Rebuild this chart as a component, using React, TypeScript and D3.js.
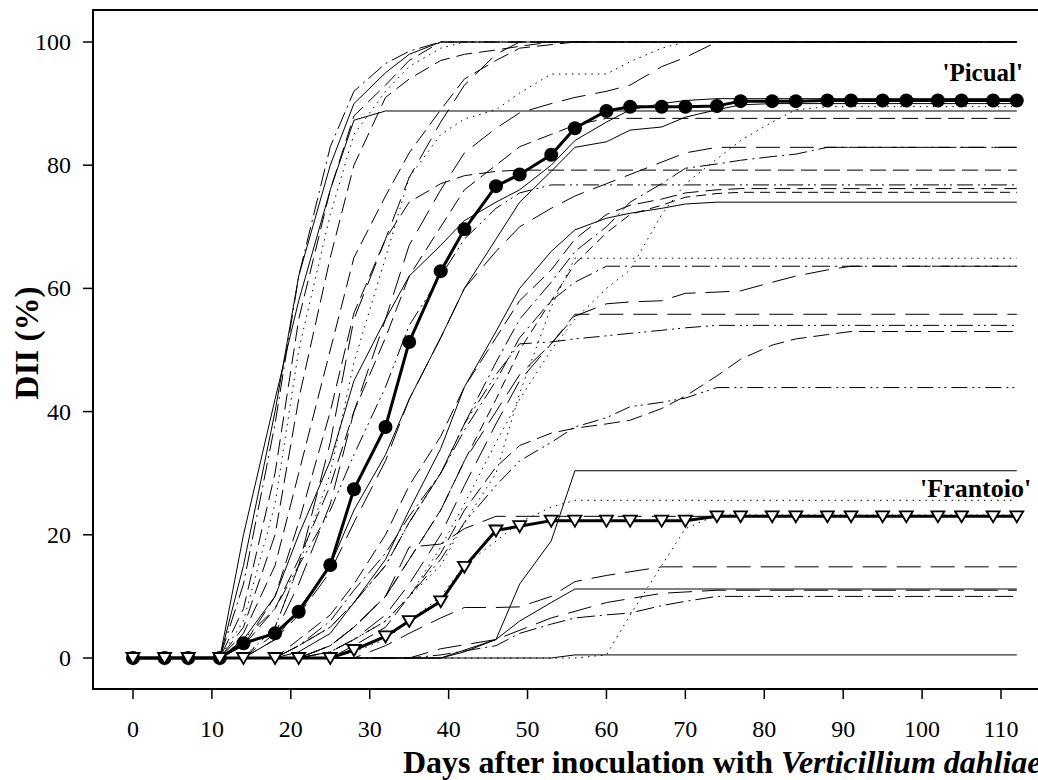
import React from 'react'
import * as d3 from 'd3'

type Pt = [number, number]

// sampling days of the two highlighted cultivars
const days = [0, 4, 7, 11, 14, 18, 21, 25, 28, 32, 35, 39, 42, 46, 49, 53, 56, 60, 63, 67, 70, 74, 77, 81, 84, 88, 91, 95, 98, 102, 105, 109, 112]
const picual = [0, 0, 0, 0, 2.4, 4, 7.5, 15.1, 27.4, 37.5, 51.3, 62.8, 69.6, 76.6, 78.5, 81.7, 86, 88.8, 89.5, 89.5, 89.5, 89.6, 90.4, 90.4, 90.4, 90.5, 90.5, 90.5, 90.5, 90.5, 90.5, 90.5, 90.5]
const frantoio = [0, 0, 0, 0, 0, 0, 0, 0, 1.3, 3.5, 6, 9.2, 14.8, 20.7, 21.4, 22.3, 22.3, 22.3, 22.3, 22.3, 22.3, 23, 23, 23, 23, 23, 23, 23, 23, 23, 23, 23, 23]

const xTicks = [0, 10, 20, 30, 40, 50, 60, 70, 80, 90, 100, 110]
const yTicks = [0, 20, 40, 60, 80, 100]

// other cultivars, [day, DII] vertices
const t1: Pt[] = [[0, 0], [11, 0], [14, 12], [18, 38], [21, 62], [25, 83], [28, 92], [32, 96.5], [35, 98.5], [39, 100], [112, 100]]
const t2: Pt[] = [[0, 0], [11, 0], [14, 8], [18, 30], [21, 55], [25, 76], [28, 88], [32, 93], [35, 97], [39, 100], [112, 100]]
const t3: Pt[] = [[0, 0], [11, 0], [14, 6], [18, 25], [21, 50], [25, 72], [28, 85], [32, 92], [35, 96], [39, 99], [42, 100], [112, 100]]
const t4: Pt[] = [[0, 0], [11, 0], [14, 5], [18, 20], [21, 42], [25, 65], [28, 80], [32, 91], [35, 94], [39, 97], [42, 98], [46, 98.7], [49, 99.3], [53, 100], [112, 100]]
const t5: Pt[] = [[0, 0], [14, 0], [18, 5], [21, 15], [25, 35], [28, 55], [32, 68], [35, 78], [39, 87], [42, 93], [46, 98], [49, 100], [112, 100]]
const t6: Pt[] = [[0, 0], [14, 0], [18, 5], [21, 15], [25, 30], [28, 48], [32, 65], [35, 78], [39, 85], [42, 87.5], [46, 89], [49, 91.7], [53, 94.8], [60, 94.8], [63, 96.8], [67, 99], [70, 100], [112, 100]]
const t7: Pt[] = [[0, 0], [14, 0], [18, 4], [21, 12], [25, 25], [28, 40], [32, 55], [35, 67], [39, 76], [42, 82], [46, 86], [49, 88.5], [53, 90], [56, 91], [60, 92], [63, 93], [67, 96], [70, 97.5], [74, 100], [112, 100]]
const t8: Pt[] = [[0, 0], [11, 0], [14, 4], [18, 15], [21, 30], [25, 50], [28, 65], [32, 75], [35, 82], [39, 89], [42, 94], [46, 97], [49, 99], [56, 100], [112, 100]]
const t9: Pt[] = [[0, 0], [11, 0], [14, 15], [18, 40], [21, 62], [25, 80], [28, 90], [32, 95], [35, 98], [39, 100], [112, 100]]
const s90: Pt[] = [[0, 0], [14, 0], [18, 3], [21, 8], [25, 15], [28, 24], [32, 33], [35, 42], [39, 52], [42, 60], [46, 68], [49, 74], [53, 79], [56, 82.9], [60, 83.8], [63, 85.7], [67, 86.2], [70, 87.8], [74, 89], [77, 89.8], [81, 90], [112, 90]]
const s91: Pt[] = [[0, 0], [11, 0], [14, 3], [18, 10], [21, 20], [25, 32], [28, 45], [32, 55], [35, 62], [39, 67], [42, 71], [46, 74], [49, 76], [53, 80], [56, 84], [60, 87], [63, 89], [67, 90], [70, 90.5], [74, 90.8], [112, 90.8]]
const dt89: Pt[] = [[0, 0], [21, 0], [25, 1], [28, 3], [32, 6], [35, 10], [39, 18], [42, 25], [46, 35], [49, 42], [53, 50], [56, 55], [60, 60], [63, 63], [67, 72], [70, 77], [74, 81], [77, 84], [81, 87], [84, 89], [88, 89.5], [112, 89.5]]
const s88: Pt[] = [[0, 0], [11, 0], [14, 20], [18, 42], [21, 58], [25, 76], [28, 87.3], [32, 88.8], [112, 88.8]]
const d87: Pt[] = [[0, 0], [11, 0], [14, 2], [18, 8], [21, 16], [25, 28], [28, 40], [32, 52], [35, 62], [39, 70], [42, 76], [46, 80], [49, 83], [53, 85], [56, 86.5], [60, 87.6], [112, 87.6]]
const ld82: Pt[] = [[0, 0], [14, 0], [18, 3], [21, 7], [25, 14], [28, 22], [32, 32], [35, 42], [39, 52], [42, 60], [46, 66], [49, 70], [53, 73], [56, 75], [60, 77], [63, 78.5], [67, 80.5], [70, 82], [74, 82.9], [112, 82.9]]
const dd82: Pt[] = [[0, 0], [18, 0], [21, 2], [25, 5], [28, 9], [32, 15], [35, 22], [39, 30], [42, 38], [46, 48], [49, 55], [53, 61], [56, 66], [60, 70], [63, 74], [67, 77], [70, 79.5], [74, 80.2], [77, 80.8], [81, 81.4], [84, 81.8], [88, 82.9], [112, 82.9]]
const d79: Pt[] = [[0, 0], [11, 0], [14, 2], [18, 10], [21, 22], [25, 40], [28, 56], [32, 68], [35, 74], [39, 77], [42, 78.3], [46, 79], [49, 79.2], [112, 79.2]]
const ddd77: Pt[] = [[0, 0], [11, 0], [14, 3], [18, 8], [21, 15], [25, 24], [28, 33], [32, 44], [35, 54], [39, 62], [42, 68], [46, 73], [49, 75.5], [53, 76.8], [112, 76.8]]
const d76: Pt[] = [[0, 0], [18, 0], [21, 3], [25, 7], [28, 12], [32, 20], [35, 28], [39, 36], [42, 44], [46, 52], [49, 58], [53, 63], [56, 68], [60, 72], [63, 73.5], [67, 74.5], [70, 75.5], [74, 76], [77, 76.2], [112, 76.2]]
const sd75: Pt[] = [[0, 0], [21, 0], [25, 2], [28, 5], [32, 10], [35, 16], [39, 24], [42, 32], [46, 42], [49, 50], [53, 58], [56, 64], [60, 69], [63, 72], [67, 73.5], [70, 74.8], [74, 75.4], [77, 75.6], [112, 75.6]]
const s74: Pt[] = [[0, 0], [18, 0], [21, 1], [25, 4], [28, 9], [32, 16], [35, 24], [39, 34], [42, 44], [46, 53], [49, 60], [53, 66], [56, 69.5], [60, 71.4], [63, 72.2], [67, 73], [70, 73.7], [74, 74], [112, 74]]
const dt65: Pt[] = [[0, 0], [21, 0], [25, 1], [28, 3], [32, 6], [35, 10], [39, 15], [42, 22], [46, 30], [49, 43], [53, 57], [56, 64.9], [112, 64.9]]
const dd64: Pt[] = [[0, 0], [18, 0], [21, 2], [25, 6], [28, 11], [32, 17], [35, 23], [39, 30], [42, 37], [46, 45], [49, 52], [53, 58], [56, 61], [60, 63.6], [112, 63.6]]
const ld64: Pt[] = [[0, 0], [21, 0], [25, 2], [28, 5], [32, 10], [35, 16], [39, 24], [42, 32], [46, 40], [49, 46], [53, 51], [56, 55.5], [60, 57.5], [63, 57.8], [67, 58], [70, 59.2], [74, 59.4], [77, 59.6], [81, 61], [84, 62], [88, 63], [91, 63.6], [112, 63.6]]
const ld56: Pt[] = [[0, 0], [21, 0], [25, 1], [28, 3], [32, 7], [35, 12], [39, 20], [42, 28], [46, 38], [49, 45], [53, 51], [56, 55.8], [112, 55.8]]
const ddd54: Pt[] = [[0, 0], [18, 0], [21, 2], [25, 5], [28, 9], [32, 15], [35, 22], [39, 30], [42, 38], [46, 46], [49, 51], [53, 51.3], [56, 51.8], [60, 52.3], [63, 52.7], [67, 53.2], [70, 53.6], [74, 54], [112, 54]]
const d53: Pt[] = [[0, 0], [25, 0], [28, 2], [32, 5], [35, 10], [39, 17], [42, 24], [46, 31], [49, 34.5], [53, 36.5], [56, 37.3], [60, 38], [63, 38.6], [67, 40.5], [70, 42.5], [74, 45.8], [77, 48.5], [81, 50.8], [84, 51.8], [88, 52.5], [91, 53], [112, 53]]
const ddd44: Pt[] = [[0, 0], [21, 0], [25, 1], [28, 3], [32, 6], [35, 10], [39, 16], [42, 22], [46, 28], [49, 32], [53, 35], [56, 37.5], [60, 39], [63, 40.8], [67, 41.5], [70, 42.2], [74, 43.9], [112, 43.9]]
const s30: Pt[] = [[0, 0], [39, 0], [46, 3], [49, 12], [53, 19], [56, 30.4], [112, 30.4]]
const dt26: Pt[] = [[0, 0], [25, 0], [28, 1], [32, 3], [35, 6], [39, 10], [42, 15], [46, 19], [49, 22], [53, 24.5], [56, 25.6], [112, 25.6]]
const d23: Pt[] = [[0, 0], [21, 0], [25, 2], [28, 5], [32, 10], [35, 18], [39, 18.5], [42, 21], [46, 23], [112, 23]]
const dtLate: Pt[] = [[0, 0], [56, 0], [60, 0.5], [63, 7], [67, 15], [70, 21], [74, 23.2], [112, 23.2]]
const ld15: Pt[] = [[0, 0], [28, 0], [32, 2], [35, 4], [39, 6.5], [42, 8.2], [46, 8.2], [49, 8.3], [53, 10], [56, 12.4], [60, 13.4], [63, 14], [67, 14.8], [112, 14.8]]
const s11: Pt[] = [[0, 0], [39, 0], [42, 1], [46, 3], [49, 6], [53, 9], [56, 11.2], [112, 11.2]]
const ld11: Pt[] = [[0, 0], [35, 0], [39, 1.5], [46, 3], [53, 6.5], [60, 9], [67, 10.5], [74, 11], [112, 11]]
const dd10: Pt[] = [[0, 0], [35, 0], [39, 0.5], [46, 2], [49, 4], [53, 5.5], [56, 6.5], [60, 7], [63, 7.3], [67, 8.5], [70, 9.2], [74, 10], [112, 10]]
const s0: Pt[] = [[0, 0], [53, 0], [56, 0.5], [112, 0.5]]

const dashes: Record<string, string> = {
  solid: 'none',
  dashed: '16,7',
  short: '10,6',
  long: '24,10',
  dotted: '1.5,5',
  dashDot: '18,5,2,5',
  dashDotDot: '16,5,2,4,2,5',
}

const others: [Pt[], string][] = [
  [t1, 'dashDot'], [t2, 'dashed'], [t3, 'dotted'], [t4, 'dashed'], [t5, 'long'], [t6, 'dotted'],
  [t7, 'long'], [t8, 'dashed'], [t9, 'solid'], [s90, 'solid'], [s91, 'solid'], [dt89, 'dotted'],
  [s88, 'solid'], [d87, 'dashed'], [ld82, 'long'], [dd82, 'dashDot'], [d79, 'dashed'], [ddd77, 'dashDotDot'],
  [d76, 'dashed'], [sd75, 'short'], [s74, 'solid'], [dt65, 'dotted'], [dd64, 'dashDot'], [ld64, 'long'],
  [ld56, 'long'], [ddd54, 'dashDotDot'], [d53, 'dashed'], [ddd44, 'dashDotDot'], [s30, 'solid'], [dt26, 'dotted'],
  [d23, 'long'], [dtLate, 'dotted'], [ld15, 'long'], [s11, 'solid'], [ld11, 'long'], [dd10, 'dashDot'], [s0, 'solid'],
]

const W = 1038
const H = 780
const font = "'Liberation Serif', 'Times New Roman', serif"

export default function App() {
  const x = d3.scaleLinear().domain([0, 110]).range([133, 1001])
  const y = d3.scaleLinear().domain([0, 100]).range([658, 42])
  const line = d3.line<Pt>().x(d => x(d[0])).y(d => y(d[1]))

  const picPts: Pt[] = days.map((d, i) => [d, picual[i]])
  const fraPts: Pt[] = days.map((d, i) => [d, frantoio[i]])

  return (
    <svg width={W} height={H} style={{ position: 'absolute', left: 0, top: 0, background: '#fff' }} fontFamily={font}>
      <rect x={93} y={10} width={1000} height={679} fill="none" stroke="#000" strokeWidth={2} />

      {yTicks.map(t => (
        <g key={'y' + t}>
          <line x1={83} x2={93} y1={y(t)} y2={y(t)} stroke="#000" strokeWidth={1.5} />
          <text x={71} y={y(t) + 8} textAnchor="end" fontSize={24}>{t}</text>
        </g>
      ))}
      {xTicks.map(t => (
        <g key={'x' + t}>
          <line x1={x(t)} x2={x(t)} y1={690} y2={699} stroke="#000" strokeWidth={1.5} />
          <text x={x(t)} y={737} textAnchor="middle" fontSize={24}>{t}</text>
        </g>
      ))}

      <text transform="translate(38,343) rotate(-90)" textAnchor="middle" fontSize={33} fontWeight="bold">DII (%)</text>
      <text x={403} y={773} fontSize={32} fontWeight="bold">
        Days after inoculation with <tspan fontStyle="italic">Verticillium dahliae</tspan>
      </text>

      <g fill="none" stroke="#000" strokeWidth={1}>
        {others.map(([pts, style], i) => (
          <path key={i} d={line(pts) || ''} strokeDasharray={dashes[style]} />
        ))}
      </g>

      <path d={line(picPts) || ''} fill="none" stroke="#000" strokeWidth={3} />
      {picPts.map((p, i) => (
        <circle key={'p' + i} cx={x(p[0])} cy={y(p[1])} r={7} fill="#000" />
      ))}

      <path d={line(fraPts) || ''} fill="none" stroke="#000" strokeWidth={3} />
      {fraPts.map((p, i) => (
        <path key={'f' + i} transform={`translate(${x(p[0])},${y(p[1])})`} d="M-6.5,-5L6.5,-5L0,6Z" fill="#fff" stroke="#000" strokeWidth={1.8} />
      ))}

      <text x={1023} y={81} textAnchor="end" fontSize={25} fontWeight="bold">'Picual'</text>
      <text x={920} y={497} fontSize={26} fontWeight="bold">'Frantoio'</text>
    </svg>
  )
}
